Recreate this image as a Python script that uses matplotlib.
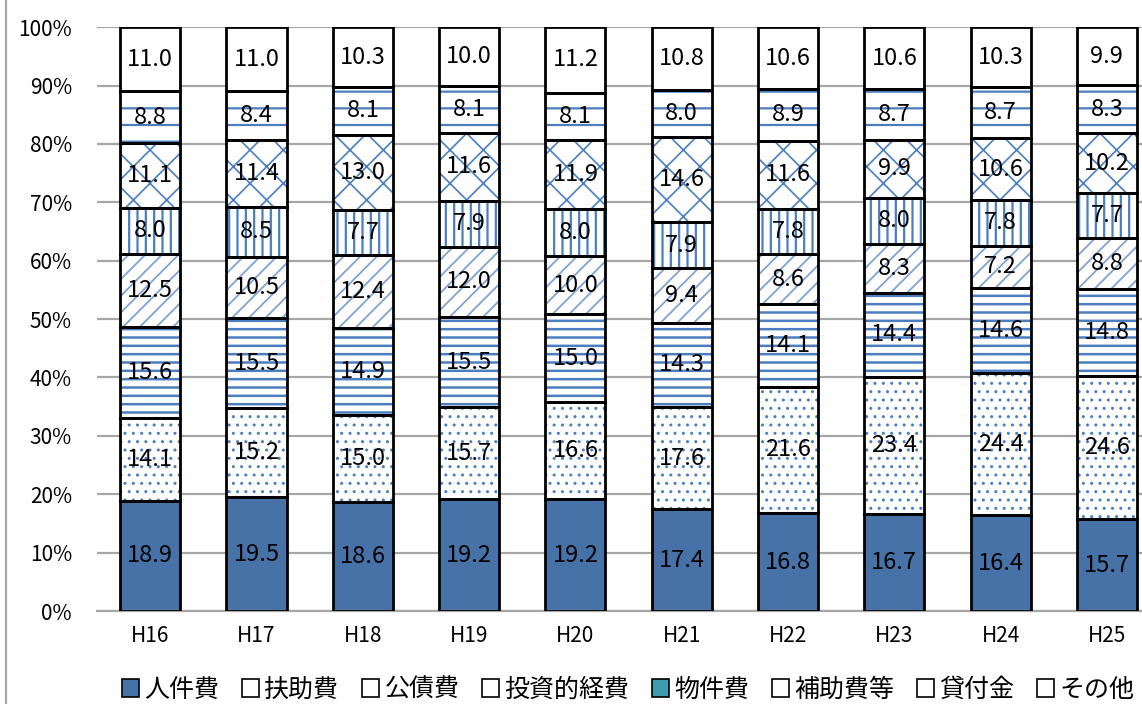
import numpy as np
import matplotlib
matplotlib.use("Agg")
import matplotlib.pyplot as plt
from matplotlib.patches import Patch
from matplotlib.lines import Line2D

plt.rcParams['font.family'] = ['Noto Sans CJK JP', 'DejaVu Sans']

years = ["H16", "H17", "H18", "H19", "H20", "H21", "H22", "H23", "H24", "H25"]
categories = ["人件費", "扶助費", "公債費", "投資的経費", "物件費", "補助費等", "貸付金", "その他"]

jinken = [18.9, 19.5, 18.6, 19.2, 19.2, 17.4, 16.8, 16.7, 16.4, 15.7]
fujo = [14.1, 15.2, 15.0, 15.7, 16.6, 17.6, 21.6, 23.4, 24.4, 24.6]
kosai = [15.6, 15.5, 14.9, 15.5, 15.0, 14.3, 14.1, 14.4, 14.6, 14.8]
toshi = [12.5, 10.5, 12.4, 12.0, 10.0, 9.4, 8.6, 8.3, 7.2, 8.8]
bukken = [8.0, 8.5, 7.7, 7.9, 8.0, 7.9, 7.8, 8.0, 7.8, 7.7]
hojo = [11.1, 11.4, 13.0, 11.6, 11.9, 14.6, 11.6, 9.9, 10.6, 10.2]
kashitsuke = [8.8, 8.4, 8.1, 8.1, 8.1, 8.0, 8.9, 8.7, 8.7, 8.3]
sonota = [11.0, 11.0, 10.3, 10.0, 11.2, 10.8, 10.6, 10.6, 10.3, 9.9]

series = [jinken, fujo, kosai, toshi, bukken, hojo, kashitsuke, sonota]

BLUE = "#4672a8"
HATCH = "#4a7ebf"
LIGHT = "#7fa3d4"
TEAL = "#3f9cb0"
# fill colour / hatch pattern / hatch colour / hatch width per category
styles = [
    (BLUE, None, None, 1.0),
    ("white", "..", HATCH, 1.0),
    ("white", "--", HATCH, 1.8),
    ("white", "//", LIGHT, 1.3),
    ("white", "||", HATCH, 1.6),
    ("white", "x", HATCH, 1.2),
    ("white", "-", HATCH, 1.6),
    ("white", None, None, 1.0),
]

fig = plt.figure(figsize=(11.42, 7.04), dpi=100)
ax = fig.add_axes([0.085, 0.132, 0.915, 0.8295])

x = np.arange(len(years))
width = 0.565
bottom = np.zeros(len(years))
for vals, (fc, hatch, hc, hlw) in zip(series, styles):
    vals = np.array(vals)
    with plt.rc_context({'hatch.linewidth': hlw}):
        ax.bar(x, vals, width, bottom=bottom, color=fc, hatch=hatch,
               edgecolor=hc if hatch else fc, linewidth=0, zorder=2)
    ax.bar(x, vals, width, bottom=bottom, fill=False, edgecolor="black",
           linewidth=2, zorder=3)
    for xi, b, v in zip(x, bottom, vals):
        ax.text(xi, b + v / 2, f"{v:.1f}", ha="center", va="center",
                fontsize=17, color="black", zorder=4)
    bottom += vals

ax.set_xlim(-0.5, 9.33)
ax.set_ylim(0, 100)
ax.set_yticks(np.arange(0, 101, 10))
ax.set_yticklabels([f"{v}%" for v in range(0, 101, 10)], fontsize=15)
ax.set_xticks(x)
ax.set_xticklabels(years, fontsize=15)
ax.tick_params(length=0, pad=10)
ax.tick_params(axis="y", pad=18)
ax.yaxis.grid(True, color="#a6a6a6", linewidth=1.6, zorder=0)
ax.set_axisbelow(True)
for s in ["top", "right", "left"]:
    ax.spines[s].set_visible(False)
ax.spines["bottom"].set_color("#a6a6a6")
ax.spines["bottom"].set_linewidth(1.6)

# outer frame line on the left
fig.add_artist(Line2D([0.005, 0.005], [0, 1], transform=fig.transFigure,
                      color="#a6a6a6", linewidth=1.6))

handles = []
for name, (fc, hatch, hc, hlw) in zip(categories, styles):
    if name == "物件費":
        fc = TEAL
    handles.append(Patch(facecolor=fc, edgecolor="black", linewidth=1.2,
                         label=name))
fig.legend(handles=handles, loc="center", bbox_to_anchor=(0.55, 0.02),
           ncol=8, frameon=False, fontsize=18, handlelength=0.7,
           handleheight=0.7, handletextpad=0.2, columnspacing=0.9)

fig.savefig("out.png", dpi=100)
